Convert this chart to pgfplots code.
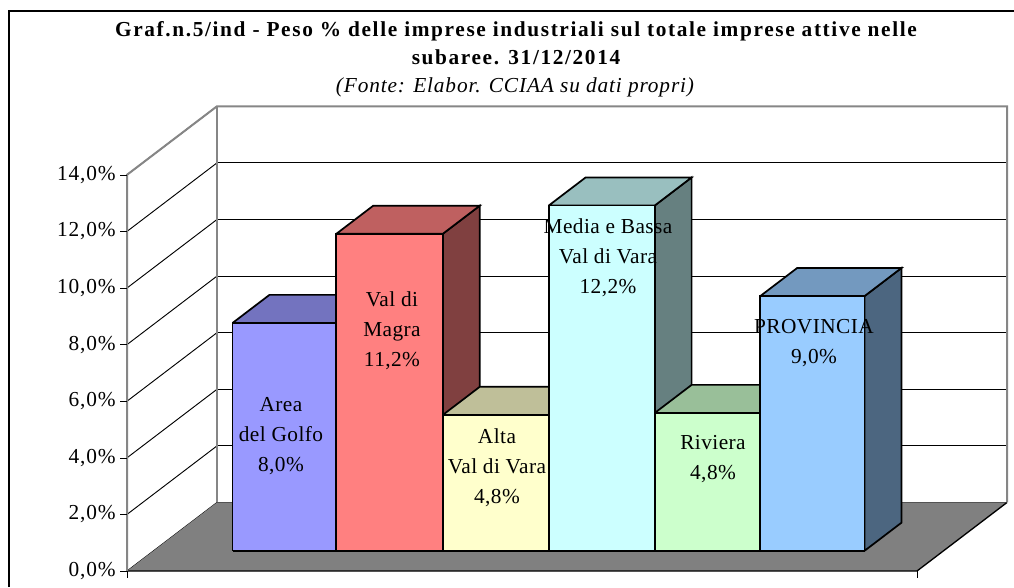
\documentclass[border=0pt]{standalone}
\usepackage{fontspec}
\setmainfont{Liberation Serif}
\usepackage{pgfplots}
\pgfplotsset{compat=1.18}

\definecolor{wallgray}{HTML}{868686}
\definecolor{floorgray}{HTML}{808080}
\definecolor{barA}{HTML}{9999FF}
\definecolor{barB}{HTML}{FF8080}
\definecolor{barC}{HTML}{FFFFCC}
\definecolor{barD}{HTML}{CCFFFF}
\definecolor{barE}{HTML}{CCFFCC}
\definecolor{barF}{HTML}{99CCFF}

% x0, x1, value, colour name
\newcommand{\drawbar}[4]{
  \addplot3[draw=black, line width=1.3pt, line join=miter, fill=#4!50!black] coordinates {
    (#2,0.295,0) (#2,0.705,0) (#2,0.705,#3) (#2,0.295,#3) (#2,0.295,0)};
  \addplot3[draw=black, line width=1.3pt, line join=miter, fill=#4!75!black] coordinates {
    (#1,0.295,#3) (#2,0.295,#3) (#2,0.705,#3) (#1,0.705,#3) (#1,0.295,#3)};
  \addplot3[draw=black, line width=1.3pt, line join=miter, fill=#4] coordinates {
    (#1,0.295,0) (#2,0.295,0) (#2,0.295,#3) (#1,0.295,#3) (#1,0.295,0)};
}

\newcommand{\labelfont}{\fontsize{16}{22.5}\selectfont\addfontfeature{LetterSpace=2}}
\newcommand{\tickfont}{\fontsize{16}{22.5}\selectfont\addfontfeature{LetterSpace=4}}

\begin{document}
\begin{tikzpicture}[x=0.75pt, y=-0.75pt]
\path[use as bounding box] (0,0) rectangle (1014,587);
\draw[black, line width=0.8pt] (9,587) -- (9,11) -- (1014,11);

\begin{axis}[
    at={(95.25pt,-428.25pt)}, anchor=origin,
    x={(79pt,0pt)}, y={(67.5pt,51.4pt)}, z={(0pt,21.225pt)},
    xmin=0, xmax=7.5, ymin=0, ymax=1, zmin=0, zmax=14,
    clip=false,
    axis line style={draw=none},
    xtick=\empty,
    ytick=\empty,
    ztick={0,2,...,14},
    zticklabels={{0,0\%},{2,0\%},{4,0\%},{6,0\%},{8,0\%},{10,0\%},{12,0\%},{14,0\%}},
    zmajorgrids,
    major grid style={black, line width=0.7pt},
    major tick length=0pt,
    tick style={draw=none},
    ticklabel style={font=\tickfont},
    zticklabel style={anchor=east, inner sep=0pt, xshift=-8.25pt},
]
% floor
\addplot3[draw=none, fill=floorgray] coordinates {(0,0,0) (7.5,0,0) (7.5,1,0) (0,1,0) (0,0,0)};
\addplot3[draw=black, line width=1pt] coordinates {(0,0,0) (7.5,0,0) (7.5,1,0)};
% wall edges
\addplot3[draw=wallgray, line width=1.5pt] coordinates {(7.5,1,0) (7.5,1,14) (0,1,14) (0,0,14) (0,0,0)};
\addplot3[draw=wallgray, line width=1.7pt] coordinates {(0,1,0) (0,1,14)};

\drawbar{0.75}{1.735}{8.05}{barA}
\drawbar{1.735}{2.746}{11.2}{barB}
\drawbar{2.746}{3.752}{4.8}{barC}
\drawbar{3.752}{4.758}{12.2}{barD}
\drawbar{4.758}{5.76}{4.87}{barE}
\drawbar{5.76}{6.75}{9.0}{barF}
\end{axis}

% tick marks
\foreach \y in {175,231.6,288.2,344.8,401.4,458,514.6,571}
  \draw[black, line width=0.7pt] (120,\y) -- (127,\y);
\draw[black, line width=0.7pt] (127,571) -- (127,578);
\draw[black, line width=0.7pt] (917,571) -- (917,578);

% titles
\node[anchor=base, font={\fontsize{16}{18}\bfseries\selectfont\addfontfeature{LetterSpace=7.6}}] at (516,36) {Graf.n.5/ind - Peso \% delle imprese industriali sul totale imprese attive nelle};
\node[anchor=base, font={\fontsize{16}{18}\bfseries\selectfont\addfontfeature{LetterSpace=7.6}}] at (516,64) {subaree. 31/12/2014};
\node[anchor=base, font={\fontsize{16}{18}\itshape\selectfont\addfontfeature{LetterSpace=4}}] at (515,92) {(Fonte: Elabor. CCIAA su dati propri)};

% bar labels
\node[anchor=base, font=\labelfont, align=center, inner sep=0pt] at (281,471) {Area\\del Golfo\\8,0\%};
\node[anchor=base, font=\labelfont, align=center, inner sep=0pt] at (392,366) {Val di\\Magra\\11,2\%};
\node[anchor=base, font=\labelfont, align=center, inner sep=0pt] at (497,503) {Alta\\Val di Vara\\4,8\%};
\node[anchor=base, font=\labelfont, align=center, inner sep=0pt] at (608,293) {Media e Bassa\\Val di Vara\\12,2\%};
\node[anchor=base, font=\labelfont, align=center, inner sep=0pt] at (713,479) {Riviera\\4,8\%};
\node[anchor=base, font=\labelfont, align=center, inner sep=0pt] at (814,363) {PROVINCIA\\9,0\%};
\end{tikzpicture}
\end{document}
